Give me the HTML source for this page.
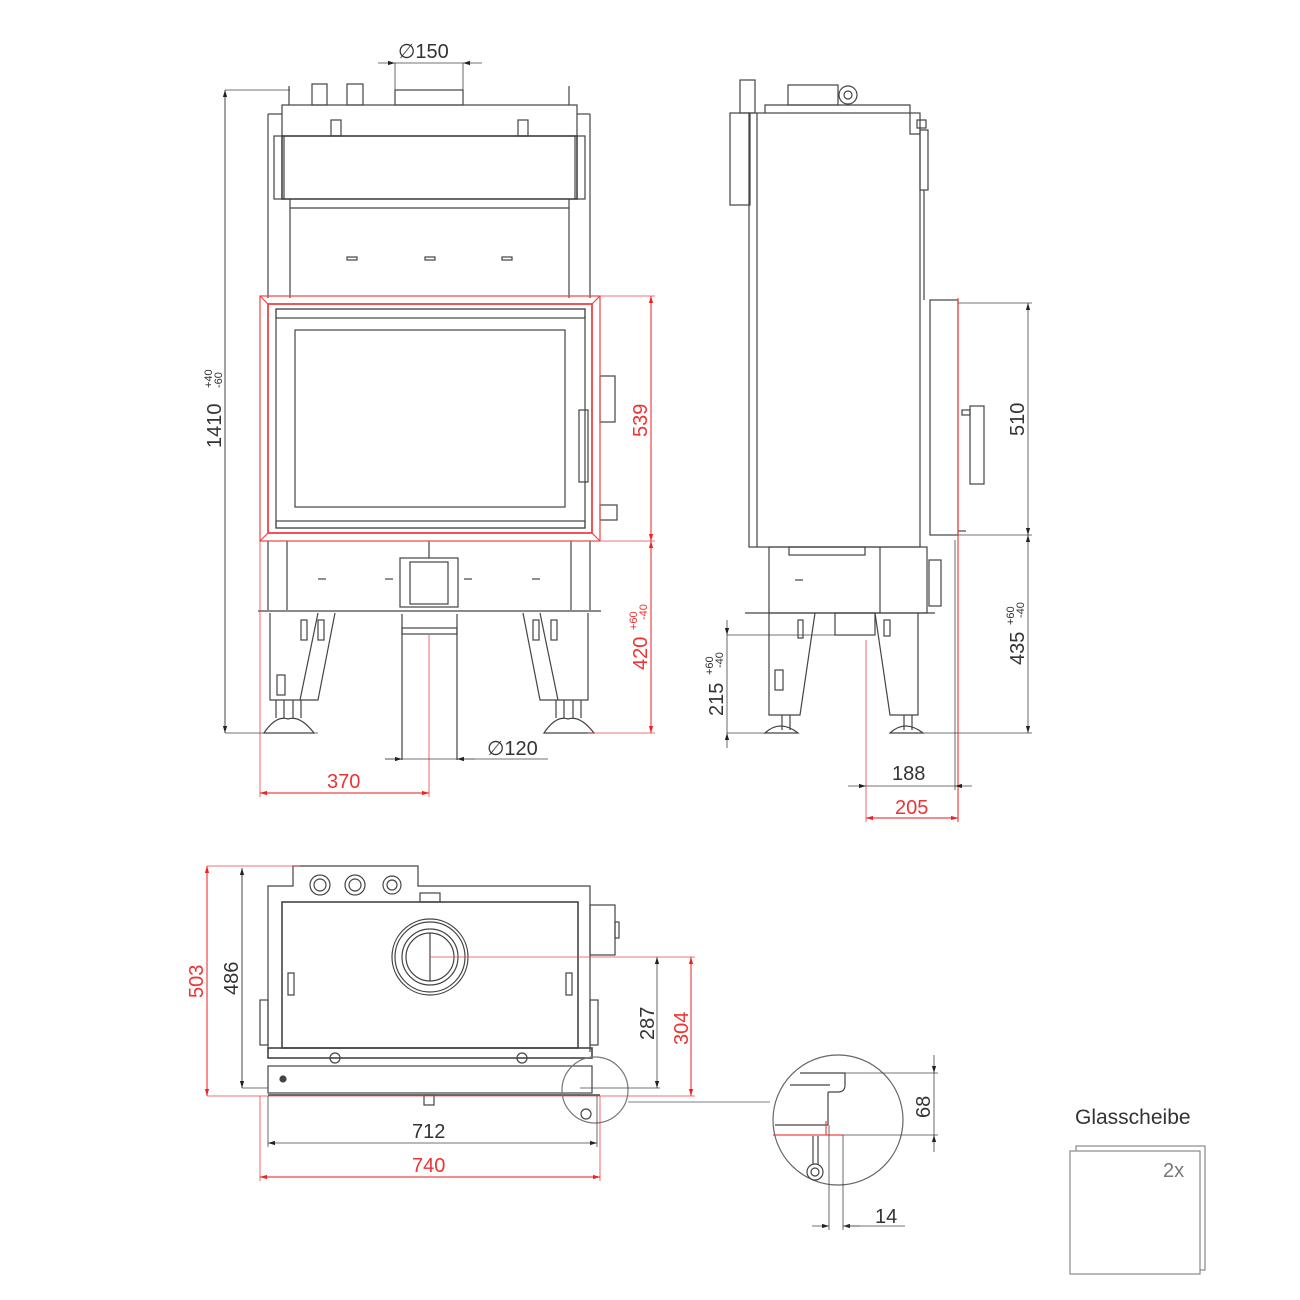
<!DOCTYPE html>
<html><head><meta charset="utf-8"><style>
html,body{margin:0;padding:0;background:#fff}
svg{display:block}
text{font-family:"Liberation Sans",sans-serif}
</style></head><body>
<svg width="1300" height="1300" viewBox="0 0 1300 1300" xmlns="http://www.w3.org/2000/svg">
<defs>
<marker id="a" viewBox="0 0 10 10" refX="10" refY="5" markerWidth="14" markerHeight="7" orient="auto-start-reverse" markerUnits="userSpaceOnUse"><path d="M0,2 L10,5 L0,8z" fill="#222"/></marker>
<marker id="r" viewBox="0 0 10 10" refX="10" refY="5" markerWidth="14" markerHeight="7" orient="auto-start-reverse" markerUnits="userSpaceOnUse"><path d="M0,2 L10,5 L0,8z" fill="#e22"/></marker>
</defs>
<g fill="none" stroke="#444" stroke-width="1.2">
<!-- FRONT VIEW -->
<rect x="282" y="105" width="295" height="31"/>
<line x1="268" y1="114" x2="268" y2="298"/><line x1="590" y1="114" x2="590" y2="298"/>
<line x1="268" y1="114" x2="282" y2="114"/><line x1="577" y1="114" x2="590" y2="114"/>
<rect x="274" y="136" width="10" height="63"/><rect x="575" y="136" width="10" height="63"/>
<rect x="282" y="136" width="295" height="63" stroke-width="1.6"/>
<rect x="312" y="84" width="15" height="21"/><rect x="347" y="84" width="16" height="21"/>
<rect x="395" y="90" width="68" height="15"/>
<line x1="289" y1="86" x2="289" y2="105"/><line x1="569" y1="86" x2="569" y2="105"/>
<rect x="331" y="120" width="10" height="16"/><rect x="518" y="120" width="10" height="16"/>
<line x1="290" y1="199" x2="290" y2="298"/><line x1="569" y1="199" x2="569" y2="298"/>
<line x1="290" y1="208" x2="569" y2="208"/>
<rect x="347" y="257" width="10" height="3"/><rect x="425" y="257" width="10" height="3"/><rect x="502" y="257" width="10" height="3"/>
<rect x="276" y="309" width="309" height="219"/>
<rect x="295" y="330" width="270" height="177"/>
<rect x="276" y="309" width="309" height="9"/><rect x="276" y="521" width="309" height="7"/>
<rect x="579" y="410" width="9" height="72"/>
<rect x="600" y="376" width="15" height="46"/><rect x="600" y="505" width="17" height="15"/>
<line x1="268" y1="541" x2="268" y2="610"/><line x1="590" y1="541" x2="590" y2="610"/>
<line x1="287" y1="541" x2="287" y2="610"/><line x1="571" y1="541" x2="571" y2="610"/>
<rect x="400" y="558" width="58" height="49"/><rect x="410" y="562" width="38" height="42"/>
<line x1="429" y1="541" x2="429" y2="558"/>
<line x1="318" y1="579" x2="326" y2="579"/><line x1="385" y1="579" x2="393" y2="579"/><line x1="464" y1="579" x2="472" y2="579"/><line x1="532" y1="579" x2="540" y2="579"/>
<line x1="258" y1="611" x2="601" y2="611"/>
<path d="M270,613 V700 H318 L335,613"/><path d="M318,613 L300,700"/>
<rect x="277" y="675" width="8" height="20"/><rect x="301" y="620" width="6" height="20"/><rect x="318" y="620" width="6" height="20"/>
<path d="M588,613 V700 H540 L523,613"/><path d="M540,613 L558,700"/>
<rect x="533" y="620" width="6" height="20"/><rect x="551" y="620" width="6" height="20"/>
<path d="M276,700 v18 M284,700 v18 M293,700 v18 M301,700 v18"/>
<path d="M264,733 q12,-18 24,-14 q12,-4 26,14 z"/>
<path d="M556,700 v18 M564,700 v18 M573,700 v18 M581,700 v18"/>
<path d="M544,733 q12,-18 24,-14 q12,-4 26,14 z"/>
<rect x="402" y="628" width="55" height="6"/>
<line x1="402" y1="614" x2="402" y2="760"/><line x1="457" y1="614" x2="457" y2="760"/>
<!-- SIDE VIEW -->
<rect x="740" y="80" width="15" height="33"/><rect x="730" y="113" width="20" height="92"/>
<rect x="749" y="113" width="171" height="434"/><line x1="757" y1="113" x2="757" y2="547"/>
<path d="M765,113 V105 H910 V134 H920"/>
<rect x="788" y="85" width="50" height="20"/><circle cx="848" cy="95" r="9"/><circle cx="848" cy="95" r="4"/>
<rect x="917" y="120" width="9" height="8"/><rect x="920" y="130" width="8" height="60"/>
<line x1="924" y1="190" x2="924" y2="300"/>
<rect x="930" y="300" width="28" height="235"/>
<rect x="962" y="410" width="8" height="5"/><rect x="970" y="406" width="14" height="78"/>
<line x1="958" y1="531" x2="966" y2="531"/>
<rect x="789" y="547" width="76" height="8"/>
<rect x="769" y="547" width="158" height="66"/><line x1="880" y1="547" x2="880" y2="613"/>
<rect x="929" y="560" width="12" height="46"/>
<line x1="795" y1="580" x2="803" y2="580"/>
<line x1="745" y1="613" x2="935" y2="613"/>
<path d="M769,613 V715 H800 L815,613"/><path d="M875,613 L890,715 H918 V613"/>
<rect x="775" y="670" width="8" height="20"/><rect x="798" y="620" width="5" height="18"/><rect x="884" y="620" width="6" height="16"/>
<rect x="835" y="613" width="40" height="22"/>
<path d="M782,715 v15 M790,715 v15 M904,715 v15 M912,715 v15"/>
<path d="M765,733 q15,-14 33,0 z M890,733 q15,-14 33,0 z"/>
<!-- TOP VIEW -->
<path d="M268,1052 V886 H293 V866 H418 V886 H590 V1052"/>
<rect x="282" y="902" width="296" height="146" stroke-width="1.6"/>
<circle cx="320" cy="885" r="10"/><circle cx="320" cy="885" r="6"/>
<circle cx="355" cy="885" r="10"/><circle cx="355" cy="885" r="6"/>
<circle cx="392" cy="885" r="9"/><circle cx="392" cy="885" r="5"/>
<rect x="420" y="893" width="20" height="9"/>
<circle cx="430" cy="957" r="38"/><circle cx="430" cy="957" r="35"/><circle cx="430" cy="957" r="28"/><circle cx="430" cy="957" r="24"/>
<line x1="430" y1="933" x2="430" y2="981"/>
<rect x="590" y="905" width="25" height="50"/><rect x="615" y="922" width="4" height="16"/>
<rect x="288" y="973" width="6" height="22"/><rect x="566" y="973" width="6" height="22"/>
<rect x="260" y="1000" width="8" height="45"/><rect x="590" y="1000" width="8" height="45"/>
<rect x="268" y="1048" width="324" height="10" stroke-width="1.6"/>
<circle cx="335" cy="1058" r="5"/><circle cx="522" cy="1058" r="5"/>
<rect x="268" y="1066" width="324" height="27"/>
<circle cx="283" cy="1079" r="3" fill="#444"/>
<line x1="268" y1="1095" x2="600" y2="1095" stroke-width="1.6"/>
<rect x="424" y="1095" width="10" height="10"/>
<circle cx="595" cy="1090" r="33" stroke="#777"/>
<circle cx="586" cy="1114" r="5"/>
<line x1="628" y1="1102" x2="770" y2="1102" stroke="#999"/>
<!-- detail circle -->
<circle cx="838" cy="1120" r="65" stroke="#666"/>
<path d="M800,1073 H845 V1085 Q845,1092 838,1092 H828 M828,1092 V1125 M790,1085 H830" />
<line x1="775" y1="1125" x2="828" y2="1125"/>
<line x1="813" y1="1136" x2="813" y2="1165"/><line x1="818" y1="1136" x2="818" y2="1165"/>
<circle cx="815" cy="1172" r="8"/><circle cx="815" cy="1172" r="4"/>
<!-- glass -->
<rect x="1076" y="1146" width="129" height="124" stroke="#888"/>
<rect x="1070" y="1151" width="130" height="123" stroke="#888" fill="#fff"/>
</g>
<!-- red frame -->
<g fill="none" stroke="#e44" stroke-width="1.2">
<rect x="260" y="296" width="340" height="245"/><rect x="268" y="304" width="324" height="229" stroke-width="1.8"/>
<path d="M260,296 L268,304 M600,296 L592,304 M260,541 L268,533 M600,541 L592,533"/>
<line x1="600" y1="296" x2="655" y2="296" stroke-width="0.8"/><line x1="600" y1="541" x2="655" y2="541" stroke-width="0.8"/>
<line x1="651" y1="296" x2="651" y2="541" marker-start="url(#r)" marker-end="url(#r)"/>
<line x1="588" y1="733" x2="655" y2="733" stroke-width="0.8"/>
<line x1="651" y1="541" x2="651" y2="733" marker-start="url(#r)" marker-end="url(#r)"/>
<line x1="260" y1="541" x2="260" y2="797" stroke-width="0.8"/><line x1="429" y1="635" x2="429" y2="797" stroke-width="0.8"/>
<line x1="260" y1="793" x2="429" y2="793" marker-start="url(#r)" marker-end="url(#r)"/>
<line x1="958" y1="298" x2="958" y2="822"/>
<line x1="866" y1="640" x2="866" y2="822" stroke-width="0.8"/>
<line x1="866" y1="818" x2="958" y2="818" marker-start="url(#r)" marker-end="url(#r)"/>
<line x1="207" y1="866" x2="300" y2="866" stroke-width="0.8"/>
<line x1="207" y1="1096" x2="695" y2="1096" stroke-width="0.8"/>
<line x1="207" y1="866" x2="207" y2="1096" marker-start="url(#r)" marker-end="url(#r)"/>
<line x1="430" y1="957" x2="695" y2="957" stroke-width="0.8"/>
<line x1="691" y1="957" x2="691" y2="1096" marker-start="url(#r)" marker-end="url(#r)"/>
<line x1="260" y1="1096" x2="260" y2="1181" stroke-width="0.8"/><line x1="600" y1="1096" x2="600" y2="1181" stroke-width="0.8"/>
<line x1="260" y1="1177" x2="600" y2="1177" marker-start="url(#r)" marker-end="url(#r)"/>
<path d="M773,1135 H843 M826,1121 v14"/>
</g>
<!-- dark dims -->
<g fill="none" stroke="#444" stroke-width="0.8">
<line x1="225" y1="90" x2="290" y2="90"/><line x1="225" y1="733" x2="318" y2="733"/>
<line x1="225" y1="90" x2="225" y2="733" stroke-width="1" marker-start="url(#a)" marker-end="url(#a)"/>
<line x1="395" y1="63" x2="395" y2="105"/><line x1="463" y1="63" x2="463" y2="90"/>
<line x1="378" y1="63" x2="395" y2="63" marker-end="url(#a)"/><line x1="482" y1="63" x2="463" y2="63" marker-end="url(#a)"/><line x1="395" y1="63" x2="463" y2="63"/>
<line x1="385" y1="759" x2="548" y2="759"/>
<line x1="385" y1="759" x2="402" y2="759" marker-end="url(#a)"/><line x1="475" y1="759" x2="457" y2="759" marker-end="url(#a)"/>
<line x1="958" y1="303" x2="1032" y2="303"/><line x1="958" y1="535" x2="1032" y2="535"/><line x1="918" y1="733" x2="1032" y2="733"/>
<line x1="1028" y1="303" x2="1028" y2="535" marker-start="url(#a)" marker-end="url(#a)"/>
<line x1="1028" y1="535" x2="1028" y2="733" marker-start="url(#a)" marker-end="url(#a)"/>
<line x1="727" y1="635" x2="840" y2="635"/><line x1="727" y1="733" x2="770" y2="733"/>
<line x1="727" y1="620" x2="727" y2="635" marker-end="url(#a)"/><line x1="727" y1="748" x2="727" y2="733" marker-end="url(#a)"/><line x1="727" y1="635" x2="727" y2="733"/>
<line x1="955" y1="540" x2="955" y2="790"/>
<line x1="848" y1="786" x2="866" y2="786" marker-end="url(#a)"/><line x1="972" y1="786" x2="955" y2="786" marker-end="url(#a)"/><line x1="866" y1="786" x2="955" y2="786"/>
<line x1="242" y1="868" x2="242" y2="1088" stroke-width="1" marker-start="url(#a)" marker-end="url(#a)"/>
<line x1="242" y1="1088" x2="268" y2="1088"/>
<line x1="580" y1="1088" x2="660" y2="1088"/>
<line x1="657" y1="957" x2="657" y2="1088" marker-start="url(#a)" marker-end="url(#a)"/>
<line x1="268" y1="1096" x2="268" y2="1147"/><line x1="597" y1="1096" x2="597" y2="1147"/>
<line x1="268" y1="1143" x2="597" y2="1143" marker-start="url(#a)" marker-end="url(#a)"/>
<line x1="845" y1="1073" x2="938" y2="1073"/><line x1="843" y1="1135" x2="938" y2="1135"/>
<line x1="934" y1="1055" x2="934" y2="1073" marker-end="url(#a)"/><line x1="934" y1="1152" x2="934" y2="1135" marker-end="url(#a)"/><line x1="934" y1="1073" x2="934" y2="1135"/>
<line x1="829" y1="1125" x2="829" y2="1230"/><line x1="843" y1="1135" x2="843" y2="1230"/>
<line x1="812" y1="1226" x2="829" y2="1226" marker-end="url(#a)"/><line x1="860" y1="1226" x2="843" y2="1226" marker-end="url(#a)"/><line x1="843" y1="1226" x2="905" y2="1226"/>
</g>
<!-- labels -->
<g fill="#333" font-size="20">
<text x="398" y="58">∅150</text>
<text x="487" y="755">∅120</text>
<text transform="translate(221,448) rotate(-90)">1410</text>
<text transform="translate(212,388) rotate(-90)" font-size="11">+40</text>
<text transform="translate(222,388) rotate(-90)" font-size="11">-60</text>
<text transform="translate(1024,436) rotate(-90)">510</text>
<text transform="translate(1024,665) rotate(-90)">435</text>
<text transform="translate(1014,625) rotate(-90)" font-size="11">+60</text>
<text transform="translate(1024,618) rotate(-90)" font-size="11">-40</text>
<text transform="translate(723,716) rotate(-90)">215</text>
<text transform="translate(713,675) rotate(-90)" font-size="11">+60</text>
<text transform="translate(723,668) rotate(-90)" font-size="11">-40</text>
<text x="892" y="780">188</text>
<text transform="translate(238,995) rotate(-90)">486</text>
<text transform="translate(654,1040) rotate(-90)">287</text>
<text x="412" y="1138">712</text>
<text transform="translate(930,1118) rotate(-90)">68</text>
<text x="875" y="1223">14</text>
<text x="1075" y="1124" font-size="21">Glasscheibe</text>
<text x="1163" y="1177" fill="#777" font-size="20">2x</text>
</g>
<g fill="#e33" font-size="20">
<text transform="translate(647,437) rotate(-90)">539</text>
<text transform="translate(647,670) rotate(-90)">420</text>
<text transform="translate(637,630) rotate(-90)" font-size="11">+60</text>
<text transform="translate(647,620) rotate(-90)" font-size="11">-40</text>
<text x="327" y="788">370</text>
<text x="895" y="814">205</text>
<text transform="translate(203,998) rotate(-90)">503</text>
<text transform="translate(688,1045) rotate(-90)">304</text>
<text x="412" y="1172">740</text>
</g>
</svg>
</body></html>
